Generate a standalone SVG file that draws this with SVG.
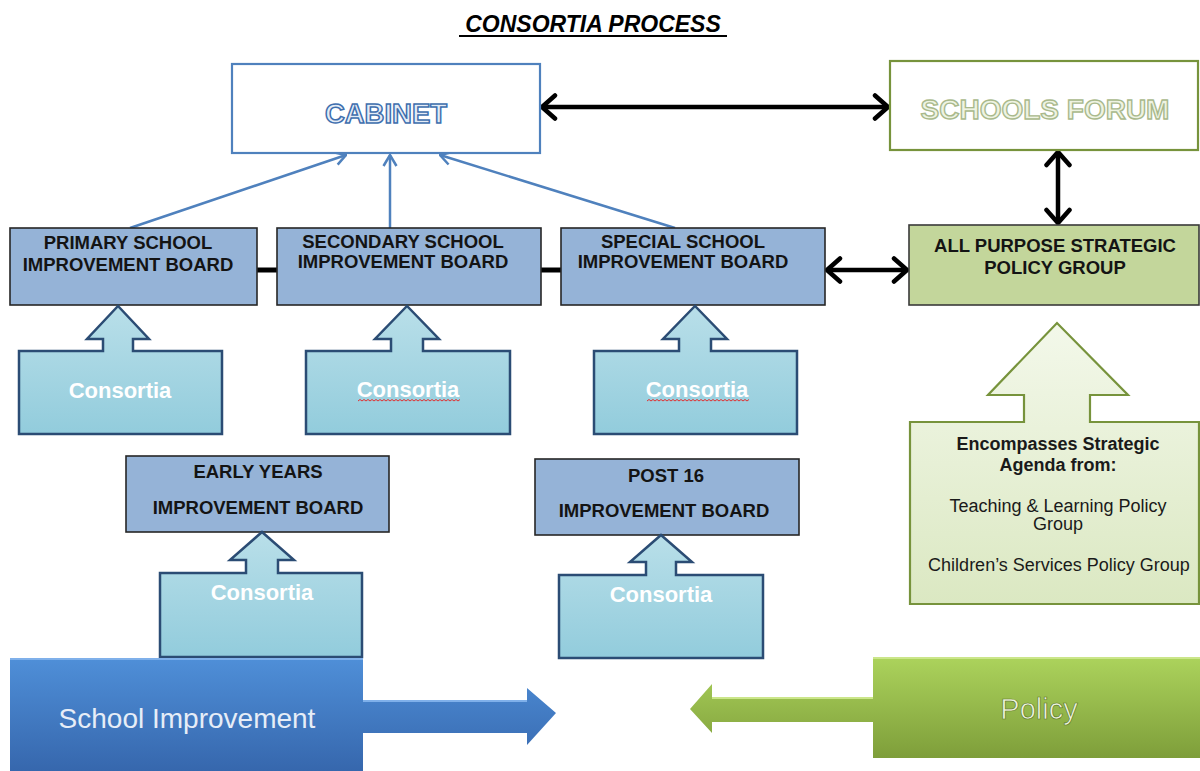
<svg xmlns="http://www.w3.org/2000/svg" width="1200" height="771" viewBox="0 0 1200 771">
  <style>
    .board { fill: #95b3d7; stroke: #262626; stroke-width: 1.6; }
    .policybox { fill: #c3d69b; stroke: #3a3a3a; stroke-width: 1.6; }
    .btxt { font-family: "Liberation Sans", Arial, sans-serif; font-weight: bold; font-size: 18.5px; fill: #141414; text-anchor: middle; }
    .cons { fill: url(#consGrad); stroke: #2b4c74; stroke-width: 2.5; stroke-linejoin: miter; }
    .ctxt { font-family: "Liberation Sans", Arial, sans-serif; font-weight: bold; font-size: 22px; fill: #ffffff; text-anchor: middle; }
    .dbl { stroke: #000; stroke-width: 4.5; fill: none; marker-start: url(#chev); marker-end: url(#chev); }
    .bar { stroke: #000; stroke-width: 5; }
    .up { stroke: #4f81bd; stroke-width: 2.5; fill: none; marker-end: url(#bchev); }
    .gtxt { font-family: "Liberation Sans", Arial, sans-serif; font-size: 18px; fill: #1a1a1a; text-anchor: middle; }
    .squig { stroke: #e03030; stroke-width: 1; fill: none; }
  </style>
  <defs>
    <marker id="chev" viewBox="0 0 18 28" refX="16" refY="14" markerWidth="18" markerHeight="28" markerUnits="userSpaceOnUse" orient="auto-start-reverse">
      <path d="M3,2.5 L16,14 L3,25.5" stroke="#000" stroke-width="4.5" fill="none" stroke-linecap="round" stroke-linejoin="round"/>
    </marker>
    <marker id="bchev" viewBox="0 0 14 16" refX="13" refY="8" markerWidth="14" markerHeight="16" markerUnits="userSpaceOnUse" orient="auto">
      <path d="M2,1.5 L13,8 L2,14.5" stroke="#4f81bd" stroke-width="2.5" fill="none"/>
    </marker>
    <linearGradient id="consGrad" x1="0" y1="0" x2="0" y2="1">
      <stop offset="0" stop-color="#b9dfe9"/>
      <stop offset="1" stop-color="#92ccdc"/>
    </linearGradient>
    <linearGradient id="encGrad" x1="0" y1="0" x2="0" y2="1">
      <stop offset="0" stop-color="#f3f8ea"/>
      <stop offset="1" stop-color="#dbe8c2"/>
    </linearGradient>
    <linearGradient id="siGrad" x1="0" y1="0" x2="0" y2="1">
      <stop offset="0" stop-color="#4f8fd8"/>
      <stop offset="1" stop-color="#3667ad"/>
    </linearGradient>
    <linearGradient id="polGrad" x1="0" y1="0" x2="0" y2="1">
      <stop offset="0" stop-color="#acd35c"/>
      <stop offset="1" stop-color="#7e9e3a"/>
    </linearGradient>
  </defs>

  <rect width="1200" height="771" fill="#ffffff"/>

  <!-- heading -->
  <g id="title">
    <text x="593" y="32" font-family="Liberation Sans, Arial, sans-serif" font-size="23" font-weight="bold" font-style="italic" text-anchor="middle" fill="#000">CONSORTIA PROCESS</text>
    <line x1="459" y1="36" x2="727" y2="36" stroke="#000" stroke-width="2"/>
  </g>

  <!-- connectors -->
  <g id="connectors">
    <line class="dbl" x1="542" y1="107" x2="888" y2="107"/>
    <line class="dbl" x1="1058" y1="152" x2="1058" y2="223"/>
    <line class="dbl" x1="827" y1="270" x2="907" y2="270"/>
    <line class="bar" x1="257" y1="270" x2="277" y2="270"/>
    <line class="bar" x1="541" y1="270" x2="561" y2="270"/>
    <line class="up" x1="130" y1="228" x2="346" y2="155"/>
    <line class="up" x1="390" y1="228" x2="390" y2="155"/>
    <line class="up" x1="675" y1="228" x2="440" y2="155"/>
  </g>

  <g id="cabinet">
    <rect x="232" y="64" width="308" height="89" fill="#ffffff" stroke="#4f81bd" stroke-width="2.2"/>
    <text x="386" y="123" font-family="Liberation Sans, Arial, sans-serif" font-size="27.5" font-weight="bold" text-anchor="middle" fill="#e4ecf6" stroke="#3f6fae" stroke-width="1.5">CABINET</text>
  </g>

  <g id="schools-forum">
    <rect x="890" y="61" width="308" height="89" fill="#ffffff" stroke="#77933c" stroke-width="2.2"/>
    <text x="1045" y="119" font-family="Liberation Sans, Arial, sans-serif" font-size="28" font-weight="bold" text-anchor="middle" fill="#eef3e2" stroke="#a9b98c" stroke-width="1.4">SCHOOLS FORUM</text>
  </g>

  <g id="primary-board">
    <rect class="board" x="10" y="228" width="247" height="77"/>
    <text class="btxt" x="128" y="249">PRIMARY SCHOOL</text>
    <text class="btxt" x="128" y="271">IMPROVEMENT BOARD</text>
  </g>

  <g id="secondary-board">
    <rect class="board" x="277" y="228" width="264" height="77"/>
    <text class="btxt" x="403" y="248">SECONDARY SCHOOL</text>
    <text class="btxt" x="403" y="268">IMPROVEMENT BOARD</text>
  </g>

  <g id="special-board">
    <rect class="board" x="561" y="228" width="264" height="77"/>
    <text class="btxt" x="683" y="248">SPECIAL SCHOOL</text>
    <text class="btxt" x="683" y="268">IMPROVEMENT BOARD</text>
  </g>

  <g id="strategic-policy-group">
    <rect class="policybox" x="909" y="225" width="290" height="80"/>
    <text class="btxt" x="1055" y="252">ALL PURPOSE STRATEGIC</text>
    <text class="btxt" x="1055" y="274">POLICY GROUP</text>
  </g>

  <g id="consortia-primary">
    <path class="cons" d="M19,351 H103 V339 H87 L118,306 L149,339 H133 V351 H222 V434 H19 Z"/>
    <text class="ctxt" x="120" y="398">Consortia</text>
  </g>

  <g id="consortia-secondary">
    <path class="cons" d="M306,351 H391 V339 H375 L407,306 L439,339 H423 V351 H510 V434 H306 Z"/>
    <text class="ctxt" x="408" y="397">Consortia</text>
    <path class="squig" d="M358,401 l2,-1.5 l2,1.5 l2,-1.5 l2,1.5 l2,-1.5 l2,1.5 l2,-1.5 l2,1.5 l2,-1.5 l2,1.5 l2,-1.5 l2,1.5 l2,-1.5 l2,1.5 l2,-1.5 l2,1.5 l2,-1.5 l2,1.5 l2,-1.5 l2,1.5 l2,-1.5 l2,1.5 l2,-1.5 l2,1.5 l2,-1.5 l2,1.5 l2,-1.5 l2,1.5 l2,-1.5 l2,1.5 l2,-1.5 l2,1.5 l2,-1.5 l2,1.5 l2,-1.5 l2,1.5 l2,-1.5 l2,1.5 l2,-1.5 l2,1.5 l2,-1.5 l2,1.5 l2,-1.5 l2,1.5 l2,-1.5 l2,1.5 l2,-1.5 l2,1.5 l2,-1.5 l2,1.5 l2,-1.5"/>
  </g>

  <g id="consortia-special">
    <path class="cons" d="M594,351 H679 V339 H663 L695,306 L727,339 H711 V351 H797 V434 H594 Z"/>
    <text class="ctxt" x="697" y="397">Consortia</text>
    <path class="squig" d="M647,401 l2,-1.5 l2,1.5 l2,-1.5 l2,1.5 l2,-1.5 l2,1.5 l2,-1.5 l2,1.5 l2,-1.5 l2,1.5 l2,-1.5 l2,1.5 l2,-1.5 l2,1.5 l2,-1.5 l2,1.5 l2,-1.5 l2,1.5 l2,-1.5 l2,1.5 l2,-1.5 l2,1.5 l2,-1.5 l2,1.5 l2,-1.5 l2,1.5 l2,-1.5 l2,1.5 l2,-1.5 l2,1.5 l2,-1.5 l2,1.5 l2,-1.5 l2,1.5 l2,-1.5 l2,1.5 l2,-1.5 l2,1.5 l2,-1.5 l2,1.5 l2,-1.5 l2,1.5 l2,-1.5 l2,1.5 l2,-1.5 l2,1.5 l2,-1.5 l2,1.5 l2,-1.5 l2,1.5 l2,-1.5"/>
  </g>

  <g id="early-years-board">
    <rect class="board" x="126" y="456" width="263" height="76"/>
    <text class="btxt" x="258" y="478">EARLY YEARS</text>
    <text class="btxt" x="258" y="514">IMPROVEMENT BOARD</text>
  </g>

  <g id="consortia-early-years">
    <path class="cons" d="M160,573 H246 V560 H230 L262,532 L294,560 H278 V573 H362 V657 H160 Z"/>
    <text class="ctxt" x="262" y="600">Consortia</text>
  </g>

  <g id="post16-board">
    <rect class="board" x="535" y="459" width="264" height="76"/>
    <text class="btxt" x="666" y="482">POST 16</text>
    <text class="btxt" x="664" y="517">IMPROVEMENT BOARD</text>
  </g>

  <g id="consortia-post16">
    <path class="cons" d="M559,575 H646 V562 H630 L661,535 L692,562 H676 V575 H763 V658 H559 Z"/>
    <text class="ctxt" x="661" y="602">Consortia</text>
  </g>

  <g id="strategic-agenda">
    <path d="M910,422 H1024 V395 H988 L1057,323 L1128,395 H1090 V422 H1199 V604 H910 Z" fill="url(#encGrad)" stroke="#77933c" stroke-width="2.2"/>
    <text class="gtxt" x="1058" y="450" font-weight="bold">Encompasses Strategic</text>
    <text class="gtxt" x="1058" y="471" font-weight="bold">Agenda from:</text>
    <text class="gtxt" x="1058" y="512">Teaching &amp; Learning Policy</text>
    <text class="gtxt" x="1058" y="530">Group</text>
    <text class="gtxt" x="1059" y="571">Children’s Services Policy Group</text>
  </g>

  <g id="school-improvement">
    <path d="M10,658 H363 V700 H527 V688 L556,713 L527,745 V733 H363 V771 H10 Z" fill="url(#siGrad)"/>
    <path d="M10,659 H363 M363,701 H527" stroke="#7fb0ea" stroke-width="2" fill="none"/>
    <text x="187" y="728" font-family="Liberation Sans, Arial, sans-serif" font-size="28" text-anchor="middle" fill="#e6edf7">School Improvement</text>
  </g>

  <g id="policy">
    <path d="M1200,657 H873 V697 H712 V684 L690,709 L712,733 V722 H873 V758 H1200 Z" fill="url(#polGrad)"/>
    <path d="M873,658 H1200 M712,698 H873" stroke="#cbe68a" stroke-width="2" fill="none"/>
    <text x="1039" y="719" font-family="Liberation Sans, Arial, sans-serif" font-size="29" text-anchor="middle" fill="#eef4df" stroke="#5d7a26" stroke-width="0.7">Policy</text>
  </g>
</svg>
